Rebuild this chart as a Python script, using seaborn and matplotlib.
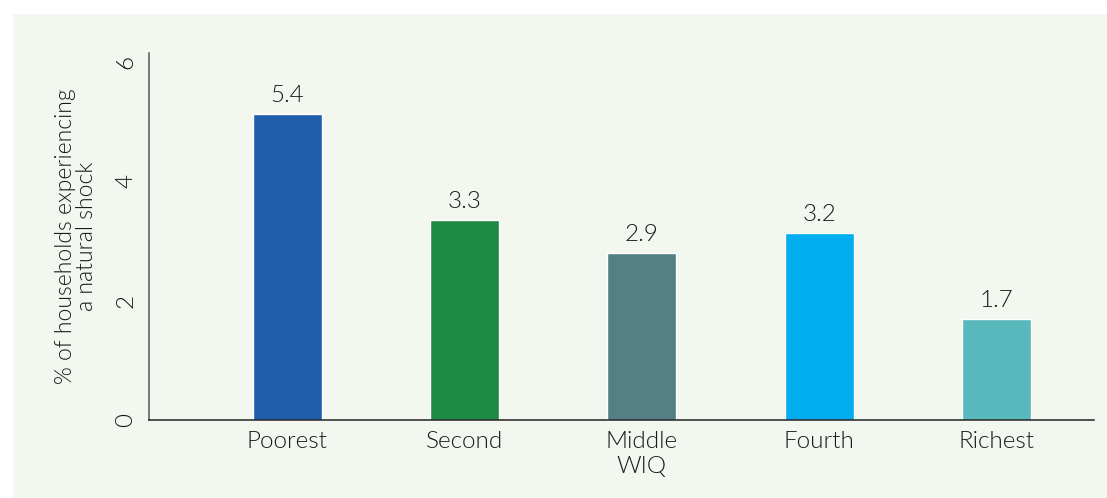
import matplotlib
matplotlib.use("Agg")
import matplotlib.pyplot as plt
import seaborn as sns
import pandas as pd
from matplotlib.patches import Rectangle

categories = ["Poorest", "Second", "Middle\nWIQ", "Fourth", "Richest"]
values = [5.13, 3.35, 2.80, 3.13, 1.69]
value_labels = ["5.4", "3.3", "2.9", "3.2", "1.7"]
colors = ["#1f5ea8", "#1e8a44", "#547f84", "#00aeef", "#58b8bc"]
y_ticks = [0, 2, 4, 6]
y_label = "% of households experiencing\na natural shock"

sns.set_style("white")
plt.rcParams["font.family"] = ["Lato", "DejaVu Sans"]

W = 300
bg = "#f2f7f0"
txt = "#1a1a1a"

fig = plt.figure(figsize=(11.07, 4.98), dpi=100)
fig.patch.set_facecolor("white")
fig.patches.append(Rectangle((13 / 1107, 0), 1 - 13 / 1107, (498 - 14) / 498,
                             transform=fig.transFigure, facecolor=bg,
                             edgecolor="none", zorder=-10))

ax = fig.add_axes([149 / 1107, 78 / 498, (1094 - 149) / 1107, (420 - 53) / 498])
ax.set_facecolor("none")
ax.set_zorder(5)

df = pd.DataFrame({"cat": categories, "val": values})
sns.barplot(data=df, x="cat", y="val", hue="cat", palette=colors,
            dodge=False, legend=False, width=0.39, saturation=1, ax=ax)

for i, (v, lab) in enumerate(zip(values, value_labels)):
    ax.annotate(lab, (i, v), xytext=(0, 6), textcoords="offset points",
                ha="center", va="bottom", fontsize=17.5, color=txt,
                fontweight=W)

ax.set_xlim(-0.78, 4.55)
ax.set_ylim(0, 6.15)
ax.set_yticks(y_ticks)
ax.set_yticklabels([str(t) for t in y_ticks], rotation=90, va="center")
ax.tick_params(axis="both", length=0, labelsize=17.5, labelcolor=txt)
ax.tick_params(axis="y", pad=9)
ax.tick_params(axis="x", pad=8)
for lab in ax.get_xticklabels() + ax.get_yticklabels():
    lab.set_linespacing(1.25)
    lab.set_fontweight(W)

ax.set_xlabel("")
ax.set_ylabel(y_label, fontsize=16.5, color=txt, labelpad=13, linespacing=1.0,
              fontweight=W)

sns.despine(ax=ax)
ax.spines["left"].set_color("#555555")
ax.spines["left"].set_linewidth(1.1)
ax.spines["bottom"].set_color("#222222")
ax.spines["bottom"].set_linewidth(1.1)

fig.savefig("out.png", dpi=100, facecolor="white")
